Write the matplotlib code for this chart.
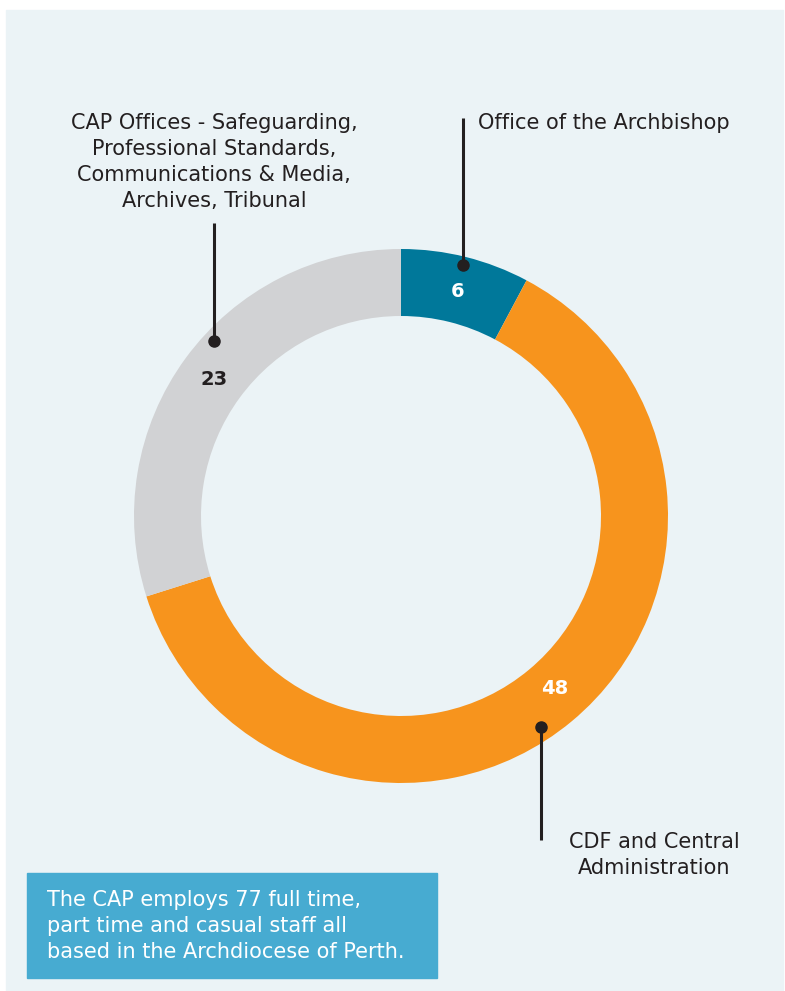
import numpy as np
import matplotlib.pyplot as plt
from matplotlib.patches import Rectangle

# staff counts by area
categories = ['Office of the Archbishop', 'CDF and Central\nAdministration',
              'CAP Offices - Safeguarding,\nProfessional Standards,\nCommunications & Media,\nArchives, Tribunal']
staff = [6, 48, 23]
colors = ['#00789A', '#F7941D', '#D1D2D4']
value_colors = ['white', 'white', '#231F20']
note = ('The CAP employs 77 full time,\npart time and casual staff all\n'
        'based in the Archdiocese of Perth.')

W, H = 785, 991
BG = '#EBF3F6'
DARK = '#231F20'
FONT = ['DejaVu Sans']

fig = plt.figure(figsize=(W / 100, H / 100), dpi=100)
ax = fig.add_axes([0, 0, 1, 1])

def py(y):
    # pixel row from top -> data y
    return H - y

ax.add_patch(Rectangle((6, 0), 777, py(10), color=BG, zorder=0))

cx, cy, R = 401, py(516), 267
wedges, _ = ax.pie(staff, colors=colors, startangle=90, counterclock=False,
                   radius=R, center=(cx, cy), frame=True,
                   wedgeprops=dict(width=67, linewidth=0))
ax.set_xlim(0, W)
ax.set_ylim(0, H)
ax.set_aspect('equal')
ax.axis('off')

# value labels at the middle of each ring segment
offsets = [0, 2.0, 0]
for w, v, c, off in zip(wedges, staff, value_colors, offsets):
    ang = np.deg2rad((w.theta1 + w.theta2) / 2 + off)
    r = R - 67 / 2 - 2
    ax.text(cx + r * np.cos(ang), cy + r * np.sin(ang), str(v), color=c,
            ha='center', va='center', fontsize=14, fontweight='bold',
            family=FONT, zorder=5)

# leader lines: dot on ring, line to label
leaders = [((463, 265), (463, 118)),
           ((541, 727), (541, 840)),
           ((214, 341), (214, 223))]
for (x0, y0), (x1, y1) in leaders:
    ax.plot([x0, x1], [py(y0), py(y1)], color=DARK, lw=2.2, zorder=6,
            solid_capstyle='butt')
    ax.plot(x0, py(y0), 'o', color=DARK, ms=8, zorder=7)

txt = dict(color=DARK, fontsize=15, family=FONT, linespacing=1.38, zorder=6)
ax.text(478, py(123), categories[0], ha='left', va='center', **txt)
ax.text(654, py(855), categories[1], ha='center', va='center', **txt)
ax.text(214, py(162), categories[2], ha='center', va='center', **txt)

ax.add_patch(Rectangle((27, py(978)), 410, 105, color='#47ABD1', zorder=2))
ax.text(47, py(926), note, ha='left', va='center', color='white',
        fontsize=15, family=FONT, linespacing=1.38, zorder=3)

fig.savefig('out.png', dpi=100, facecolor='white')
